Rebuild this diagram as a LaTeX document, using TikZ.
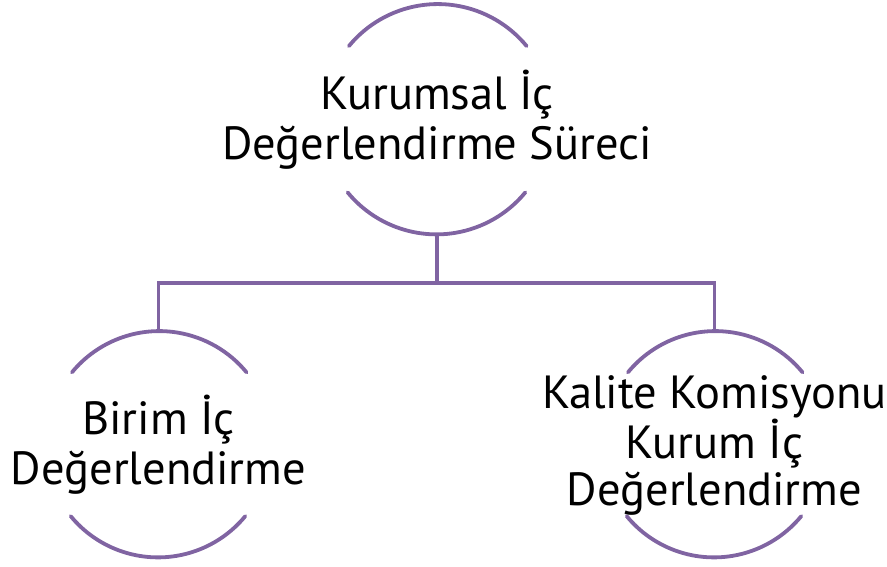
\documentclass[tikz,border=0pt]{standalone}
\usepackage{fontspec}
\setmainfont{PT Sans}
\definecolor{orgline}{RGB}{128,100,162}
\tikzset{
  ring/.style={circle, minimum size=#1, inner sep=0pt, outer sep=0pt},
  arcline/.style={draw=orgline, line width=3.8pt, line cap=round},
  linkline/.style={draw=orgline, line width=3.8pt, line join=miter},
  caption/.style={align=center, text=black, inner sep=0pt,
    font=\fontsize{46.5}{50}\selectfont}
}
\begin{document}
\begin{tikzpicture}[x=1pt, y=-1pt]
  \useasboundingbox (0,0) rectangle (887,566);

  % ring placeholders (centres and radii)
  \node[ring=230pt] (top)   at (437,120)   {};
  \node[ring=226pt] (left)  at (158.5,445) {};
  \node[ring=226pt] (right) at (714.5,445) {};

  % upper and lower arcs of each ring
  \draw[arcline] (top.140.6) arc[start angle=140.6, end angle=39.4, radius=115pt];
  \draw[arcline] (top.219.4) arc[start angle=219.4, end angle=320.6, radius=115pt];
  \draw[arcline] (left.140.6) arc[start angle=140.6, end angle=39.4, radius=113pt];
  \draw[arcline] (left.219.4) arc[start angle=219.4, end angle=320.6, radius=113pt];
  \draw[arcline] (right.140.6) arc[start angle=140.6, end angle=39.4, radius=113pt];
  \draw[arcline] (right.219.4) arc[start angle=219.4, end angle=320.6, radius=113pt];

  % hierarchy connectors
  \coordinate (bus) at (437,283);
  \draw[linkline] (top.south) -- (bus);
  \draw[linkline] (left.north) -- (left.north |- bus) -- (right.north |- bus) -- (right.north);

  % labels
  \node[caption] (toptext)   at (top)   {Kurumsal İç\\Değerlendirme Süreci};
  \node[caption] (lefttext)  at (left)  {Birim İç\\Değerlendirme};
  \node[caption, font=\fontsize{46.5}{47}\selectfont] (righttext) at (right) {Kalite Komisyonu\\Kurum İç\\Değerlendirme};
\end{tikzpicture}
\end{document}
